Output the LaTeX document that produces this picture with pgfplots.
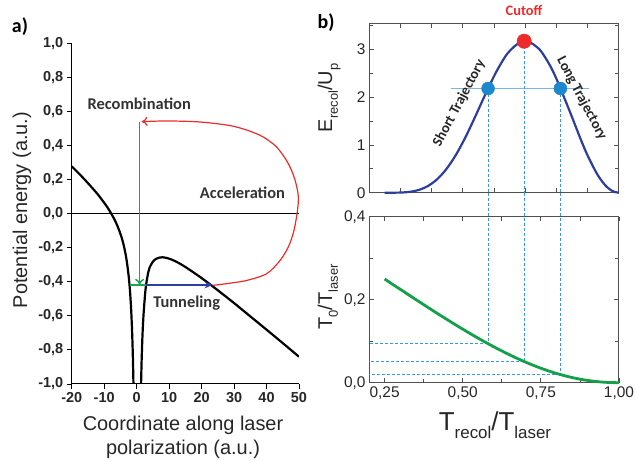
\documentclass[border=0pt]{standalone}
\usepackage{pgfplots}
\pgfplotsset{compat=1.18}
\usetikzlibrary{arrows.meta}
\usepackage{fontspec}
\setmainfont{Liberation Sans}
\newfontfamily\carlito{Carlito}
\definecolor{cred}{HTML}{EE2B2B}
\definecolor{cgreen}{HTML}{1AA64B}
\definecolor{cblue}{HTML}{2F3F9F}
\definecolor{curveblue}{HTML}{2D3E9C}
\definecolor{dotblue}{HTML}{1E88CC}
\definecolor{dashblue}{HTML}{3D95E6}
\definecolor{hlblue}{HTML}{7AB6E8}
\definecolor{dotred}{HTML}{EE2A2A}
\definecolor{ggreen}{HTML}{12A048}
\definecolor{axgray}{HTML}{505050}
\begin{document}
\begin{tikzpicture}
\path[use as bounding box] (0bp,0bp) rectangle (636bp,461bp);

% ---------------- panel a ----------------
\begin{axis}[at={(71.7bp,77bp)}, anchor=south west, scale only axis,
  width=227.3bp, height=340.7bp,
  xmin=-20, xmax=50, ymin=-1, ymax=1,
  axis lines*=left, tick align=outside,
  axis line style={black, line width=1bp},
  tick style={black, line width=0.9bp}, major tick length=5bp,
  xtick={-20,-10,0,10,20,30,40,50},
  ytick={-1,-0.8,-0.6,-0.4,-0.2,0,0.2,0.4,0.6,0.8,1},
  scaled ticks=false,
  /pgf/number format/assume math mode=true,
  yticklabel style={/pgf/number format/fixed, /pgf/number format/fixed zerofill, /pgf/number format/precision=1, /pgf/number format/use comma},
  xticklabel style={/pgf/number format/fixed, /pgf/number format/precision=0},
  tick label style={font=\fontsize{14.5}{16}\selectfont\bfseries, text=black!85},
]
\addplot[black, line width=0.8bp] coordinates {(-20,0) (50,0)};
% potential, left branch
\addplot[black, line width=2.2bp, smooth] coordinates {
(-20,0.278) (-18,0.240) (-16,0.200) (-14,0.158) (-12,0.114) (-10,0.064) (-9,0.037) (-8,0.006) (-7,-0.028) (-6,-0.068) (-5,-0.118) (-4.5,-0.148) (-4,-0.184) (-3.5,-0.228) (-3,-0.284) (-2.5,-0.359) (-2.2,-0.418) (-2,-0.467) (-1.8,-0.526) (-1.6,-0.599) (-1.4,-0.691) (-1.3,-0.748) (-1.2,-0.814) (-1.1,-0.891) (-1.0,-0.984) (-0.9,-1.096)};
% potential, right branch
\addplot[black, line width=2.2bp, smooth] coordinates {
(1.25,-1.126) (1.35,-1.016) (1.45,-0.927) (1.55,-0.853) (1.75,-0.737) (1.95,-0.651) (2.15,-0.585) (2.35,-0.533) (2.6,-0.472) (2.85,-0.427) (3.2,-0.383) (3.6,-0.343) (4,-0.316) (5,-0.282) (6,-0.265) (7,-0.258) (8,-0.256) (9,-0.259) (10,-0.264) (12,-0.280) (15,-0.313) (20,-0.378) (25,-0.450) (30,-0.525) (35,-0.603) (40,-0.681) (45,-0.760) (50,-0.840)};
% acceleration loop
\addplot[cred, line width=1.2bp, smooth, -{To[length=6bp,width=9bp]}] coordinates {
(23.4,-0.421) (27.7,-0.411) (33.9,-0.392) (40.1,-0.352) (44.2,-0.274) (46.7,-0.196) (48.3,-0.11) (49.4,0.0) (49.8,0.098) (48.8,0.196) (46.7,0.294) (43.1,0.391) (38.0,0.46) (29.8,0.513) (19.5,0.538) (9.3,0.544) (1.5,0.54)};
% green ground level and recombination arrow
\addplot[cgreen, line width=1.4bp] coordinates {(-2.1,-0.418) (2.9,-0.418)};
\addplot[cgreen, line width=1.4bp, -{To[length=6bp,width=9bp]}] coordinates {(0.9,0.54) (0.9,-0.418)};
% tunneling arrow
\addplot[cblue, line width=1.6bp, -{Stealth[length=8bp,width=7bp]}] coordinates {(2.9,-0.418) (23.4,-0.418)};
\node[font=\carlito\fontsize{16.5}{18}\selectfont\bfseries, text=black!80] at (axis cs:0.8,0.646) {Recombination};
\node[font=\carlito\fontsize{16.5}{18}\selectfont\bfseries, text=black!80] at (axis cs:32.6,0.123) {Acceleration};
\node[font=\carlito\fontsize{16.5}{18}\selectfont\bfseries, text=black!80] at (axis cs:15.4,-0.528) {Tunneling};
\end{axis}

% ---------------- panel b top ----------------
\begin{axis}[at={(369bp,268.3bp)}, anchor=south west, scale only axis,
  width=250bp, height=168.7bp,
  xmin=0.2, xmax=1, ymin=0, ymax=3.53,
  tick align=inside,
  axis line style={axgray, line width=1bp},
  tick style={axgray, line width=0.8bp}, major tick length=4.5bp, minor tick length=4bp,
  xtick={0.3,0.4,0.5,0.6,0.7,0.8,0.9}, xticklabels={},
  ytick={0,1,2,3}, minor ytick={0.5,1.5,2.5,3.5},
  /pgf/number format/assume math mode=true,
  tick label style={font=\fontsize{15.5}{17}\selectfont, text=black!85},
  clip=false,
]
\addplot[hlblue, line width=0.9bp] coordinates {(0.462,2.18) (0.904,2.18)};
\addplot[dashblue, line width=1bp, dash pattern=on 3bp off 2bp] coordinates {(0.581,2.18) (0.581,0)};
\addplot[dashblue, line width=1bp, dash pattern=on 3bp off 2bp] coordinates {(0.6965,3.17) (0.6965,0)};
\addplot[dashblue, line width=1bp, dash pattern=on 3bp off 2bp] coordinates {(0.8125,2.18) (0.8125,0)};
\addplot[curveblue, line width=2.2bp, smooth] coordinates {
(0.25,0) (0.2773,0.0003) (0.306,0.0043) (0.3336,0.0204) (0.3621,0.0637) (0.3903,0.146) (0.4191,0.2876) (0.4484,0.501) (0.4783,0.7935) (0.5089,1.164) (0.5404,1.599) (0.5732,2.070) (0.6075,2.532) (0.6438,2.919) (0.6830,3.148) (0.7084,3.168) (0.7455,2.999) (0.7768,2.689) (0.8002,2.376) (0.8414,1.718) (0.8764,1.135) (0.8985,0.794) (0.9276,0.4175) (0.9488,0.2111) (0.9632,0.109) (0.9766,0.0439) (0.9871,0.0133) (1.0,0)};
\addplot[only marks, mark=*, mark size=6.5bp, dotblue, mark options={draw=dotblue, fill=dotblue}] coordinates {(0.581,2.18) (0.8125,2.18)};
\addplot[only marks, mark=*, mark size=7.2bp, dotred, mark options={draw=dotred, fill=dotred}] coordinates {(0.6965,3.17)};
\node[font=\carlito\fontsize{14.5}{16}\selectfont\bfseries, text=black!85, rotate=62] at (axis cs:0.489,1.87) {Short Trajectory};
\node[font=\carlito\fontsize{14.5}{16}\selectfont\bfseries, text=black!85, rotate=-62] at (axis cs:0.881,1.97) {Long Trajectory};
\end{axis}

% ---------------- panel b bottom ----------------
\begin{axis}[at={(369bp,78.3bp)}, anchor=south west, scale only axis,
  width=250bp, height=166bp,
  xmin=0.2, xmax=1, ymin=0, ymax=0.4,
  tick align=inside,
  axis line style={axgray, line width=1bp},
  tick style={axgray, line width=0.8bp}, major tick length=4.5bp, minor tick length=4bp,
  xtick={0.25,0.5,0.75,1}, minor xtick={0.375,0.625,0.875},
  ytick={0,0.2,0.4}, minor ytick={0.1,0.3},
  scaled ticks=false,
  /pgf/number format/assume math mode=true,
  xticklabel style={/pgf/number format/fixed, /pgf/number format/fixed zerofill, /pgf/number format/precision=2, /pgf/number format/use comma},
  yticklabel style={/pgf/number format/fixed, /pgf/number format/fixed zerofill, /pgf/number format/precision=1, /pgf/number format/use comma},
  tick label style={font=\fontsize{15.5}{17}\selectfont, text=black!85},
  clip=false,
]
\addplot[dashblue, line width=1bp, dash pattern=on 3bp off 2bp] coordinates {(0.581,0.458) (0.581,0.0945)};
\addplot[dashblue, line width=1bp, dash pattern=on 3bp off 2bp] coordinates {(0.581,0.0945) (0.2,0.0945)};
\addplot[dashblue, line width=1bp, dash pattern=on 3bp off 2bp] coordinates {(0.6965,0.458) (0.6965,0.0505)};
\addplot[dashblue, line width=1bp, dash pattern=on 3bp off 2bp] coordinates {(0.6965,0.0505) (0.2,0.0505)};
\addplot[dashblue, line width=1bp, dash pattern=on 3bp off 2bp] coordinates {(0.8125,0.458) (0.8125,0.0197)};
\addplot[dashblue, line width=1bp, dash pattern=on 3bp off 2bp] coordinates {(0.8125,0.0197) (0.2,0.0197)};
\addplot[ggreen, line width=2.8bp, smooth] coordinates {
(0.25,0.25) (0.2773,0.2361) (0.306,0.2222) (0.3336,0.2083) (0.3621,0.1944) (0.3903,0.1806) (0.4191,0.1667) (0.4484,0.1528) (0.4783,0.1389) (0.5089,0.125) (0.5404,0.1111) (0.5732,0.0972) (0.6075,0.0833) (0.6438,0.0694) (0.6830,0.0556) (0.7084,0.0472) (0.7455,0.0361) (0.7768,0.0278) (0.8002,0.0222) (0.8414,0.0139) (0.8764,0.00833) (0.8985,0.00556) (0.9276,0.00278) (0.9488,0.00139) (0.9632,0.00069) (0.9766,0.00028) (1.0,0)};
\end{axis}

% ---------------- labels ----------------
\node[font=\carlito\fontsize{20}{22}\selectfont\bfseries] at (20bp,434bp) {a)};
\node[font=\carlito\fontsize{20}{22}\selectfont\bfseries] at (326bp,438bp) {b)};
\node[font=\carlito\fontsize{14.5}{16}\selectfont\bfseries, text=dotred] at (524bp,451bp) {Cutoff};
\node[rotate=90, font=\fontsize{20}{22}\selectfont, text=black!85] at (22bp,251bp) {Potential energy (a.u.)};
\node[anchor=base, font=\fontsize{20}{22}\selectfont, text=black!85] at (183bp,31bp) {Coordinate along laser};
\node[anchor=base, font=\fontsize{20}{22}\selectfont, text=black!85] at (183bp,7bp) {polarization (a.u.)};
\node[anchor=base, rotate=90, font=\fontsize{20}{22}\selectfont, text=black!85] at (332bp,363bp) {E\raisebox{-0.3em}{\fontsize{13}{14}\selectfont recol}/U\raisebox{-0.3em}{\fontsize{13}{14}\selectfont p}};
\node[anchor=base, rotate=90, font=\fontsize{20}{22}\selectfont, text=black!85] at (332bp,164bp) {T\raisebox{-0.3em}{\fontsize{13}{14}\selectfont 0}/T\raisebox{-0.3em}{\fontsize{13}{14}\selectfont laser}};
\node[anchor=base, font=\fontsize{26}{30}\selectfont, text=black!85] at (495bp,30.3bp) {T\raisebox{-0.3em}{\fontsize{17}{19}\selectfont recol}/T\raisebox{-0.3em}{\fontsize{17}{19}\selectfont laser}};
\end{tikzpicture}
\end{document}
